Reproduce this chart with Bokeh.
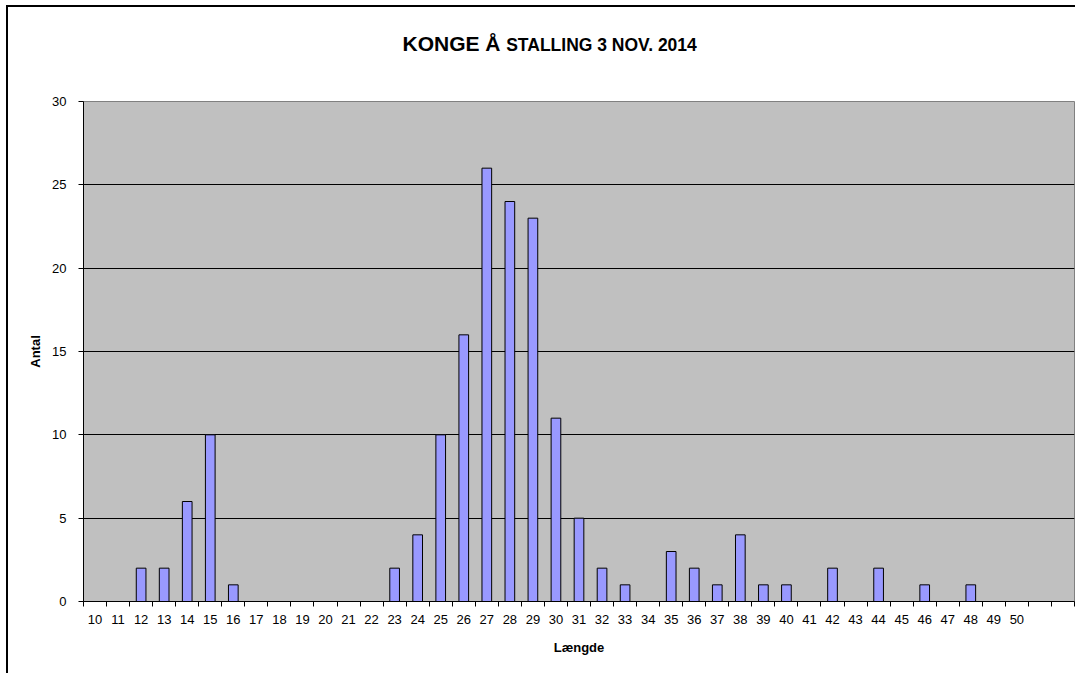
from bokeh.plotting import figure
from bokeh.models import FixedTicker, LinearAxis, Range1d, ColumnDataSource
from bokeh.embed import file_html
from bokeh.resources import INLINE

# ---- data ----
categories = ["10", "11", "12", "13", "14", "15", "16", "17", "18", "19",
              "20", "21", "22", "23", "24", "25", "26", "27", "28", "29",
              "30", "31", "32", "33", "34", "35", "36", "37", "38", "39",
              "40", "41", "42", "43", "44", "45", "46", "47", "48", "49", "50"]
counts = [0, 0, 2, 2, 6, 10, 1, 0, 0, 0,
          0, 0, 0, 2, 4, 10, 16, 26, 24, 23,
          11, 5, 2, 1, 0, 3, 2, 1, 4, 1,
          1, 0, 2, 0, 2, 0, 1, 0, 1, 0, 0]
extra_empty_slots = 2
y_ticks = [0, 5, 10, 15, 20, 25, 30]

title_main = "KONGE Å"
title_rest = "STALLING 3 NOV. 2014"
x_title = "Længde"
y_title = "Antal"

FONT = "Liberation Sans"

n_slots = len(categories) + extra_empty_slots
idx = [i for i, c in enumerate(counts) if c > 0]
src = ColumnDataSource(dict(x=idx, top=[counts[i] for i in idx]))

p = figure(width=1069, height=668, output_backend="svg", toolbar_location=None,
           x_range=Range1d(-0.5, n_slots - 0.5), y_range=Range1d(0, 30),
           min_border_left=75, min_border_right=3, min_border_top=94,
           min_border_bottom=74)
p.styles = {"border-left": "2px solid black", "border-top": "2px solid black",
            "margin-left": "6px", "margin-top": "5px"}
p.background_fill_color = "#C0C0C0"
p.border_fill_color = "white"
p.outline_line_color = "#808080"
p.outline_line_width = 1

p.vbar(x="x", top="top", width=0.42, source=src,
       fill_color="#9999FF", line_color="black", line_width=1)

# x axis
xa = p.xaxis[0]
xa.ticker = FixedTicker(ticks=list(range(len(categories))),
                        minor_ticks=[i - 0.5 for i in range(n_slots + 1)])
xa.major_label_overrides = {i: c for i, c in enumerate(categories)}
xa.major_tick_line_color = None
xa.major_tick_out = 5
xa.major_tick_in = 0
xa.minor_tick_line_color = "black"
xa.minor_tick_out = 5
xa.minor_tick_in = 0
xa.axis_line_color = "black"
xa.major_label_text_font = FONT
xa.major_label_text_font_size = "13px"
xa.major_label_text_color = "black"
xa.major_label_standoff = 8
xa.axis_label = x_title
xa.axis_label_text_font = FONT
xa.axis_label_text_font_size = "13px"
xa.axis_label_text_font_style = "bold"
xa.axis_label_text_color = "black"
xa.axis_label_standoff = 13

# y axis
ya = p.yaxis[0]
ya.ticker = FixedTicker(ticks=y_ticks)
ya.major_tick_out = 5
ya.major_tick_in = 0
ya.major_tick_line_color = "black"
ya.minor_tick_line_color = None
ya.axis_line_color = "black"
ya.major_label_text_font = FONT
ya.major_label_text_font_size = "13px"
ya.major_label_text_color = "black"
ya.major_label_standoff = 12
ya.axis_label = y_title
ya.axis_label_text_font = FONT
ya.axis_label_text_font_size = "13px"
ya.axis_label_text_font_style = "bold"
ya.axis_label_text_color = "black"
ya.axis_label_standoff = 6

p.xgrid.visible = False
p.ygrid.ticker = FixedTicker(ticks=y_ticks)
p.ygrid.grid_line_color = "black"
p.ygrid.grid_line_width = 1

# title in two sizes: drawn as tick labels of two label-only axes above the plot
# (extra range spans the plot area in page pixels)
p.extra_x_ranges = {"title": Range1d(83, 1074)}


def title_axis(pos, text, size, standoff):
    ax = LinearAxis(x_range_name="title", ticker=FixedTicker(ticks=[pos]),
                    major_label_overrides={pos: text})
    ax.axis_line_color = None
    ax.major_tick_line_color = None
    ax.minor_tick_line_color = None
    ax.major_tick_out = 0
    ax.major_tick_in = 0
    ax.minor_tick_out = 0
    ax.minor_tick_in = 0
    ax.major_label_text_font = FONT
    ax.major_label_text_font_size = size
    ax.major_label_text_font_style = "bold"
    ax.major_label_text_color = "black"
    ax.major_label_standoff = standoff
    return ax


p.add_layout(title_axis(451, title_main, "21px", 47), "above")
p.add_layout(title_axis(601, title_rest, "17.5px", -26), "above")

open("out.html", "w").write(file_html(p, INLINE))
